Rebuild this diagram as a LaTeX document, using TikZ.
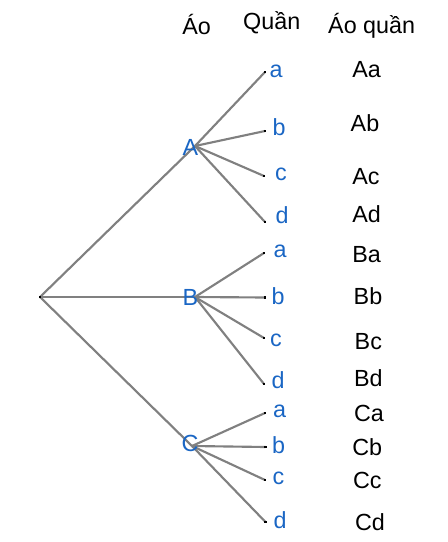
\documentclass[tikz,border=0pt]{standalone}
\usepackage{fontspec}
\setmainfont{Liberation Sans}
\definecolor{linegray}{RGB}{128,128,128}
\definecolor{labelblue}{RGB}{26,102,196}
\begin{document}
\begin{tikzpicture}[x=0.75pt,y=-0.75pt,
 edge/.style={draw=linegray,line width=1.6pt},
 leafdot/.style={fill=black,inner sep=0pt,minimum size=2pt,rectangle,draw=none},
 lbl/.style={text=labelblue,font=\fontsize{17.5}{20}\selectfont,inner sep=0pt},
 res/.style={text=black,font=\fontsize{17.5}{20}\selectfont,inner sep=0pt},
 hdr/.style={text=black,font=\fontsize{17.5}{20}\selectfont,inner sep=0pt},
]
\useasboundingbox (0,0) rectangle (448,542);
% root and hubs
\node[leafdot] (root) at (40,297) {};
\coordinate (hA) at (195,146);
\coordinate (hB) at (195,297);
\coordinate (hC) at (192,446);
% leaf dots
\node[leafdot] (Aa) at (265,72) {};
\node[leafdot] (Ab) at (265,131) {};
\node[leafdot] (Ac) at (264,176) {};
\node[leafdot] (Ad) at (265,222) {};
\node[leafdot] (Ba) at (264,253) {};
\node[leafdot] (Bb) at (265,297.5) {};
\node[leafdot] (Bc) at (264,338) {};
\node[leafdot] (Bd) at (264,384) {};
\node[leafdot] (Ca) at (265,413) {};
\node[leafdot] (Cb) at (265.5,447) {};
\node[leafdot] (Cc) at (265,480) {};
\node[leafdot] (Cd) at (265.5,522) {};
% edges
\draw[edge] (root.center) -- (hA);
\draw[edge] (root.center) -- (hB);
\draw[edge] (root.center) -- (hC);
\foreach \l in {a,b,c,d}{
  \draw[edge] (hA) -- (A\l.center);
  \draw[edge] (hB) -- (B\l.center);
  \draw[edge] (hC) -- (C\l.center);
}
% redraw dots on top
\foreach \n in {Aa,Ab,Ac,Ad,Ba,Bb,Bc,Bd,Ca,Cb,Cc,Cd,root}{
  \fill[black] ([xshift=-1pt,yshift=-1pt]\n.center) rectangle ([xshift=1pt,yshift=1pt]\n.center);
}
% first level labels
\node[lbl] (tA) at (190.5,147) {A};
\node[lbl] (tB) at (190.5,297.5) {B};
\node[lbl] (tC) at (190,443.5) {C};
% second level labels
\node[lbl] (tAa) at (276,71.5) {a};
\node[lbl] (tAb) at (279,127) {b};
\node[lbl] (tAc) at (281,174) {c};
\node[lbl] (tAd) at (282,215) {d};
\node[lbl] (tBa) at (280,251.5) {a};
\node[lbl] (tBb) at (278,296.5) {b};
\node[lbl] (tBc) at (276,340) {c};
\node[lbl] (tBd) at (278,380) {d};
\node[lbl] (tCa) at (279.5,411.5) {a};
\node[lbl] (tCb) at (278.5,445) {b};
\node[lbl] (tCc) at (278.5,478.5) {c};
\node[lbl] (tCd) at (280,520) {d};
% results
\node[res] (rAa) at (366.7,70) {Aa};
\node[res] (rAb) at (365,123.3) {Ab};
\node[res] (rAc) at (366,176.7) {Ac};
\node[res] (rAd) at (366.7,214.3) {Ad};
\node[res] (rBa) at (366.7,255) {Ba};
\node[res] (rBb) at (368,296) {Bb};
\node[res] (rBc) at (368.3,341.7) {Bc};
\node[res] (rBd) at (368.3,378.3) {Bd};
\node[res] (rCa) at (369,413.3) {Ca};
\node[res] (rCb) at (367.3,446.7) {Cb};
\node[res] (rCc) at (367.3,480.7) {Cc};
\node[res] (rCd) at (370,522.3) {Cd};
% headers
\node[hdr] (h1) at (196.7,24) {Áo};
\node[hdr] (h2) at (271.7,23) {Quần};
\node[hdr] (h3) at (371.7,25.5) {Áo quần};
\end{tikzpicture}
\end{document}
